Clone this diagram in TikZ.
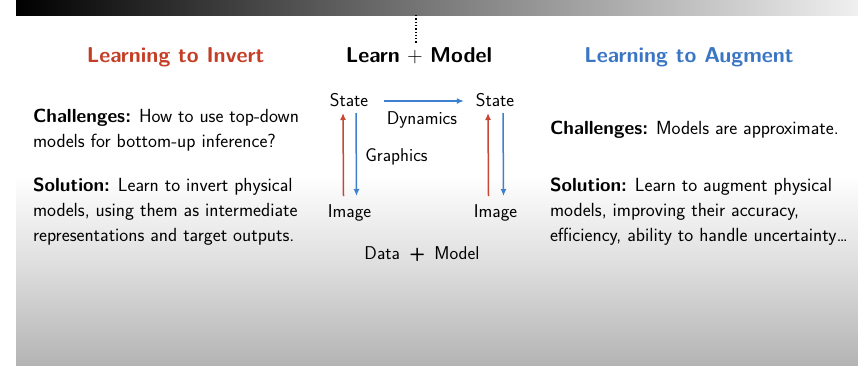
\documentclass[tikz,border=0pt]{standalone}
\usetikzlibrary{arrows.meta}
\definecolor{invred}{RGB}{196,62,38}
\definecolor{augblue}{RGB}{58,118,196}
\definecolor{arrred}{RGB}{200,70,52}
\definecolor{arrblue}{RGB}{62,128,208}
\definecolor{midgray}{RGB}{222,222,222}
\definecolor{bottomgray}{RGB}{180,180,180}
\begin{document}
\begin{tikzpicture}[x=1pt,y=-1pt,
  every node/.style={inner sep=0pt,outer sep=0pt,font=\sffamily},
  heading/.style={anchor=base,font=\sffamily\bfseries\fontsize{21.5}{25}\selectfont},
  body/.style={anchor=base west,font=\sffamily\fontsize{19}{23}\selectfont},
  diag/.style={anchor=base,font=\sffamily\fontsize{18.5}{22}\selectfont},
  uparrow/.style={draw=arrred,line width=1.5pt,-{Latex[length=7pt,width=6pt]}},
  downarrow/.style={draw=arrblue,line width=1.5pt,-{Latex[length=7pt,width=6pt]}},
]
\useasboundingbox (0,0) rectangle (858,365);
% page background
\fill[white] (0,0) rectangle (858,365);
\fill[white] (16,15) rectangle (858,175);
\shade[top color=white,bottom color=midgray] (16,175) rectangle (858,265);
\shade[top color=midgray,bottom color=bottomgray] (16,265) rectangle (858,365);
% header bar
\shade[left color=black,right color=white!94!black,middle color=black!52] (16,0) rectangle (858,15);

% column headings
\node[heading,text=invred] (hinv) at (175.5,62) {Learning to Invert};
\node[heading] (hmid) at (419,62) {Learn\,\,\textmd{+}\,\,Model};
\node[heading,text=augblue] (haug) at (689,62) {Learning to Augment};
\coordinate (dtop) at (416,15);
\coordinate (dbot) at (416,44);
\draw[dotted,line width=1.3pt] (dtop) -- (dbot);

% left column
\node[body] (lc1) at (33,122) {\textbf{Challenges:} How to use top-down};
\node[body] (lc2) at (33,147) {models for bottom-up inference?};
\node[body] (ls1) at (33,191) {\textbf{Solution:} Learn to invert physical};
\node[body] (ls2) at (33,216) {models, using them as intermediate};
\node[body] (ls3) at (33,241) {representations and target outputs.};

% right column
\node[body] (rc1) at (550,134) {\textbf{Challenges:} Models are approximate.};
\node[body] (rs1) at (550,191) {\textbf{Solution:} Learn to augment physical};
\node[body] (rs2) at (550,216) {models, improving their accuracy,};
\node[body] (rs3) at (550,241) {efficiency, ability to handle uncertainty\dots};

% centre diagram
\node[diag] (stL) at (349,106) {State};
\node[diag] (stR) at (495,106) {State};
\node[diag] (imL) at (349.5,217) {Image};
\node[diag] (imR) at (495.5,217) {Image};
\node[diag] (dyn) at (422,124) {Dynamics};
\node[diag] (gfx) at (396.5,161) {Graphics};
\node[diag] (dm) at (422,259) {Data\,\,\,\textbf{+}\,\,\,Model};

\draw[downarrow] ([xshift=16pt,yshift=5pt]stL.base east) -- ([xshift=-12pt,yshift=5pt]stR.base west);
\draw[uparrow] ([xshift=-6pt,yshift=21pt]imL.base) -- ([xshift=-6pt,yshift=-7pt]stL.base);
\draw[downarrow] ([xshift=7pt,yshift=-7pt]stL.base) -- ([xshift=7pt,yshift=21pt]imL.base);
\draw[uparrow] ([xshift=-7pt,yshift=21pt]imR.base) -- ([xshift=-7pt,yshift=-7pt]stR.base);
\draw[downarrow] ([xshift=8pt,yshift=-7pt]stR.base) -- ([xshift=8pt,yshift=21pt]imR.base);
\end{tikzpicture}
\end{document}
